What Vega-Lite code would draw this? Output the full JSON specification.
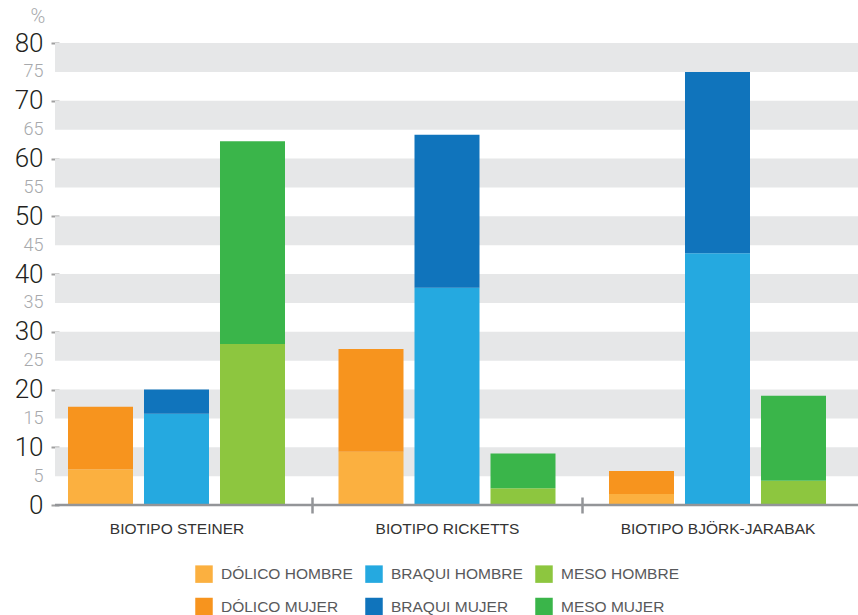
{
  "$schema": "https://vega.github.io/schema/vega-lite/v6.json",
  "width": 803,
  "height": 462,
  "autosize": {"type": "none"},
  "padding": {"left": 55, "top": 43, "right": 0, "bottom": 110},
  "background": "white",
  "config": {"view": {"stroke": null}, "font": "Liberation Sans"},
  "layer": [
    {
      "data": {"values": [
        {"desde": 5, "hasta": 10}, {"desde": 15, "hasta": 20}, {"desde": 25, "hasta": 30},
        {"desde": 35, "hasta": 40}, {"desde": 45, "hasta": 50}, {"desde": 55, "hasta": 60},
        {"desde": 65, "hasta": 70}, {"desde": 75, "hasta": 80}
      ]},
      "mark": {"type": "rect", "color": "#E6E7E8"},
      "encoding": {
        "y": {
          "field": "desde", "type": "quantitative",
          "scale": {"domain": [0, 80], "nice": false, "zero": true},
          "axis": {
            "title": "%", "titleAngle": 0, "titleAlign": "center", "titleBaseline": "middle",
            "titleX": -21.5, "titleY": -26.5, "titleFontSize": 20, "titleFontWeight": 300, "titleFont": "Roboto", "titleColor": "#A7A9AC",
            "values": [0, 5, 10, 15, 20, 25, 30, 35, 40, 45, 50, 55, 60, 65, 70, 75, 80],
            "domain": false, "grid": false, "offset": -4, "tickSize": 8, "tickWidth": 2,
            "tickColor": {"condition": {"test": "datum.value % 10 === 0", "value": "#A0A0A0"}, "value": "transparent"},
            "labelPadding": 8, "labelFlush": false, "labelOverlap": false, "labelFont": "Roboto", "labelFontWeight": 300,
            "labelFontSize": {"condition": {"test": "datum.value % 10 === 0", "value": 26}, "value": 18},
            "labelColor": {"condition": {"test": "datum.value % 10 === 0", "value": "#231F20"}, "value": "#A7A9AC"}
          }
        },
        "y2": {"field": "hasta"}
      }
    },
    {
      "data": {"values": [
        {"biotipo": "BIOTIPO STEINER", "tipo": "DÓLICO", "sexo": "HOMBRE", "serie": "DÓLICO HOMBRE", "valor": 6.2},
        {"biotipo": "BIOTIPO STEINER", "tipo": "DÓLICO", "sexo": "MUJER", "serie": "DÓLICO MUJER", "valor": 10.8},
        {"biotipo": "BIOTIPO STEINER", "tipo": "BRAQUI", "sexo": "HOMBRE", "serie": "BRAQUI HOMBRE", "valor": 15.8},
        {"biotipo": "BIOTIPO STEINER", "tipo": "BRAQUI", "sexo": "MUJER", "serie": "BRAQUI MUJER", "valor": 4.2},
        {"biotipo": "BIOTIPO STEINER", "tipo": "MESO", "sexo": "HOMBRE", "serie": "MESO HOMBRE", "valor": 27.9},
        {"biotipo": "BIOTIPO STEINER", "tipo": "MESO", "sexo": "MUJER", "serie": "MESO MUJER", "valor": 35.1},
        {"biotipo": "BIOTIPO RICKETTS", "tipo": "DÓLICO", "sexo": "HOMBRE", "serie": "DÓLICO HOMBRE", "valor": 9.2},
        {"biotipo": "BIOTIPO RICKETTS", "tipo": "DÓLICO", "sexo": "MUJER", "serie": "DÓLICO MUJER", "valor": 17.8},
        {"biotipo": "BIOTIPO RICKETTS", "tipo": "BRAQUI", "sexo": "HOMBRE", "serie": "BRAQUI HOMBRE", "valor": 37.6},
        {"biotipo": "BIOTIPO RICKETTS", "tipo": "BRAQUI", "sexo": "MUJER", "serie": "BRAQUI MUJER", "valor": 26.5},
        {"biotipo": "BIOTIPO RICKETTS", "tipo": "MESO", "sexo": "HOMBRE", "serie": "MESO HOMBRE", "valor": 2.9},
        {"biotipo": "BIOTIPO RICKETTS", "tipo": "MESO", "sexo": "MUJER", "serie": "MESO MUJER", "valor": 6.0},
        {"biotipo": "BIOTIPO BJÖRK-JARABAK", "tipo": "DÓLICO", "sexo": "HOMBRE", "serie": "DÓLICO HOMBRE", "valor": 1.9},
        {"biotipo": "BIOTIPO BJÖRK-JARABAK", "tipo": "DÓLICO", "sexo": "MUJER", "serie": "DÓLICO MUJER", "valor": 4.0},
        {"biotipo": "BIOTIPO BJÖRK-JARABAK", "tipo": "BRAQUI", "sexo": "HOMBRE", "serie": "BRAQUI HOMBRE", "valor": 43.6},
        {"biotipo": "BIOTIPO BJÖRK-JARABAK", "tipo": "BRAQUI", "sexo": "MUJER", "serie": "BRAQUI MUJER", "valor": 31.4},
        {"biotipo": "BIOTIPO BJÖRK-JARABAK", "tipo": "MESO", "sexo": "HOMBRE", "serie": "MESO HOMBRE", "valor": 4.2},
        {"biotipo": "BIOTIPO BJÖRK-JARABAK", "tipo": "MESO", "sexo": "MUJER", "serie": "MESO MUJER", "valor": 14.7}
      ]},
      "mark": {"type": "bar"},
      "encoding": {
        "x": {
          "field": "biotipo", "type": "nominal",
          "sort": ["BIOTIPO STEINER", "BIOTIPO RICKETTS", "BIOTIPO BJÖRK-JARABAK"],
          "scale": {"range": [-13.75, 797.75], "paddingInner": 0, "paddingOuter": 0},
          "axis": {
            "title": null, "domain": false, "grid": false, "tickBand": "extent", "tickSize": 16, "tickWidth": 2.5, "offset": -8,
            "tickColor": {"condition": {"test": "datum.value === 'BIOTIPO STEINER' || datum.value === 'BIOTIPO RICKETTS'", "value": "#939598"}, "value": "transparent"},
            "labelPadding": 8.5, "labelFontSize": 15.5, "labelColor": "#333333", "labelAngle": 0, "labelLimit": 400
          }
        },
        "xOffset": {
          "field": "tipo", "type": "nominal", "sort": ["DÓLICO", "BRAQUI", "MESO"],
          "scale": {"paddingInner": 0.1447, "paddingOuter": 0.352}
        },
        "y": {
          "field": "valor", "type": "quantitative", "stack": "zero",
          "axis": {
            "title": "%", "titleAngle": 0, "titleAlign": "center", "titleBaseline": "middle",
            "titleX": -21.5, "titleY": -26.5, "titleFontSize": 20, "titleFontWeight": 300, "titleFont": "Roboto", "titleColor": "#A7A9AC",
            "values": [0, 5, 10, 15, 20, 25, 30, 35, 40, 45, 50, 55, 60, 65, 70, 75, 80],
            "domain": false, "grid": false, "offset": -4, "tickSize": 8, "tickWidth": 2,
            "tickColor": {"condition": {"test": "datum.value % 10 === 0", "value": "#A0A0A0"}, "value": "transparent"},
            "labelPadding": 8, "labelFlush": false, "labelOverlap": false, "labelFont": "Roboto", "labelFontWeight": 300,
            "labelFontSize": {"condition": {"test": "datum.value % 10 === 0", "value": 26}, "value": 18},
            "labelColor": {"condition": {"test": "datum.value % 10 === 0", "value": "#231F20"}, "value": "#A7A9AC"}
          }
        },
        "color": {
          "field": "serie", "type": "nominal",
          "scale": {
            "domain": ["DÓLICO HOMBRE", "BRAQUI HOMBRE", "MESO HOMBRE", "DÓLICO MUJER", "BRAQUI MUJER", "MESO MUJER"],
            "range": ["#FBB040", "#25A9E0", "#8DC63F", "#F7941E", "#1074BC", "#3AB54A"]
          },
          "legend": {
            "title": null, "orient": "none", "legendX": 140, "legendY": 522, "direction": "horizontal",
            "columns": 3, "gridAlign": "all", "symbolType": "square", "symbolSize": 306, "symbolStrokeWidth": 0,
            "symbolOpacity": 1, "labelFontSize": 15.5, "labelColor": "#58595B", "labelOffset": 8, "labelLimit": 300,
            "rowPadding": 14.5, "columnPadding": 12, "padding": 0
          }
        },
        "order": {"field": "sexo", "sort": "ascending"}
      }
    },
    {
      "data": {"values": [{}]},
      "mark": {"type": "rule", "color": "#939598", "strokeWidth": 2.5},
      "encoding": {
        "y": {
          "datum": 0, "type": "quantitative",
          "axis": {
            "title": "%", "titleAngle": 0, "titleAlign": "center", "titleBaseline": "middle",
            "titleX": -21.5, "titleY": -26.5, "titleFontSize": 20, "titleFontWeight": 300, "titleFont": "Roboto", "titleColor": "#A7A9AC",
            "values": [0, 5, 10, 15, 20, 25, 30, 35, 40, 45, 50, 55, 60, 65, 70, 75, 80],
            "domain": false, "grid": false, "offset": -4, "tickSize": 8, "tickWidth": 2,
            "tickColor": {"condition": {"test": "datum.value % 10 === 0", "value": "#A0A0A0"}, "value": "transparent"},
            "labelPadding": 8, "labelFlush": false, "labelOverlap": false, "labelFont": "Roboto", "labelFontWeight": 300,
            "labelFontSize": {"condition": {"test": "datum.value % 10 === 0", "value": 26}, "value": 18},
            "labelColor": {"condition": {"test": "datum.value % 10 === 0", "value": "#231F20"}, "value": "#A7A9AC"}
          }
        }
      }
    }
  ]
}
